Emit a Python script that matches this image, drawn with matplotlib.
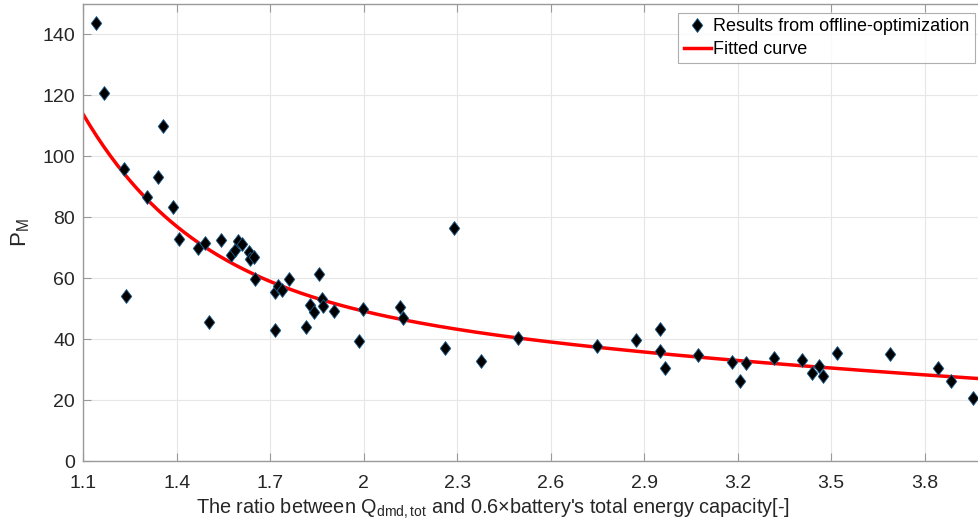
import numpy as np
import matplotlib
matplotlib.use("Agg")
import matplotlib.pyplot as plt
from matplotlib.path import Path
from matplotlib.transforms import blended_transform_factory

plt.rcParams['font.family'] = ['Liberation Sans', 'DejaVu Sans']
plt.rcParams['mathtext.default'] = 'regular'

# Results from offline optimization (ratio, P_M)
ratio = [1.142, 1.167, 1.231, 1.238, 1.305, 1.340, 1.356, 1.388, 1.407, 1.468,
         1.490, 1.503, 1.541, 1.573, 1.586, 1.596, 1.609, 1.631, 1.634, 1.647,
         1.650, 1.714, 1.714, 1.724, 1.737, 1.759, 1.813, 1.829, 1.839, 1.855,
         1.865, 1.868, 1.903, 1.986, 1.999, 2.117, 2.127, 2.261, 2.290, 2.376,
         2.495, 2.748, 2.872, 2.952, 2.949, 2.965, 3.071, 3.183, 3.208, 3.227,
         3.317, 3.406, 3.438, 3.461, 3.474, 3.518, 3.688, 3.842, 3.883, 3.954]
pm = [143.8, 120.9, 96.0, 54.0, 86.8, 93.3, 110.1, 83.5, 73.0, 69.8,
      71.7, 45.5, 72.4, 67.5, 69.4, 72.1, 71.1, 68.5, 66.2, 67.1,
      59.6, 55.4, 42.9, 57.3, 56.0, 59.9, 44.0, 51.1, 48.8, 61.3,
      53.1, 50.8, 49.3, 39.3, 49.8, 50.5, 46.8, 37.0, 76.6, 32.8,
      40.3, 37.7, 39.6, 43.2, 36.2, 30.6, 34.9, 32.6, 26.2, 32.1,
      33.9, 33.0, 29.0, 31.3, 28.0, 35.6, 35.0, 30.4, 26.2, 20.6]

# Fitted curve (two-term exponential) parameters
fit_a, fit_b, fit_c, fit_d = 1200.0, -2.75, 73.0, -0.25

xticks = [1.1, 1.4, 1.7, 2.0, 2.3, 2.6, 2.9, 3.2, 3.5, 3.8]
xticklabels = ['1.1', '1.4', '1.7', '2', '2.3', '2.6', '2.9', '3.2', '3.5', '3.8']
yticks = [0, 20, 40, 60, 80, 100, 120, 140]

fig = plt.figure(figsize=(9.79, 5.30), dpi=100)
ax = fig.add_axes([83.3/979, 69/530, 896/979, 457/530])

xmin, xmax = 1.1, 3.975
xc = np.linspace(xmin, xmax, 400)
yc = fit_a*np.exp(fit_b*xc) + fit_c*np.exp(fit_d*xc)

diamond = Path([(0, 1), (0.76, 0), (0, -1), (-0.76, 0), (0, 1)],
               [Path.MOVETO, Path.LINETO, Path.LINETO, Path.LINETO, Path.CLOSEPOLY])

ax.plot(ratio, pm, linestyle='none', marker=diamond, markersize=10,
        markerfacecolor='black', markeredgecolor='#1f5f8f', markeredgewidth=0.6,
        label='Results from offline-optimization', zorder=3)
ax.plot(xc, yc, color='#ff0000', linewidth=2.5, label='Fitted curve', zorder=2)

ax.set_xlim(xmin, xmax)
ax.set_ylim(0, 150)
ax.set_xticks(xticks)
ax.set_xticklabels(xticklabels)
ax.set_yticks(yticks)
ax.grid(True, color='#e6e6e6', linewidth=0.8)
ax.set_axisbelow(True)

for s in ['left', 'top', 'bottom']:
    ax.spines[s].set_color('#9a9a9a')
    ax.spines[s].set_linewidth(1.0)
ax.spines['right'].set_visible(False)

ax.tick_params(axis='both', direction='in', length=6, color='#9a9a9a',
               labelsize=14, labelcolor='#262626', top=True, right=False)
ax.tick_params(axis='x', pad=10)
ax.tick_params(axis='y', pad=6)

ax.set_xlabel("The ratio between Q$_{dmd,tot}$ and 0.6×battery's total energy capacity[-]",
              fontsize=14.3, color='#262626', labelpad=5)
ax.xaxis.set_label_coords(493/979, 0.0,
                          transform=blended_transform_factory(fig.transFigure, ax.transAxes))
ax.xaxis.label.set_va('top')
ax.xaxis.label.set_y(-0.078)
ax.set_ylabel("P$_M$", fontsize=16, color='#262626', labelpad=7)

leg = ax.legend(loc='upper right', fontsize=13, frameon=True,
                fancybox=False, edgecolor='#9a9a9a', handlelength=1.5,
                handletextpad=0.15, borderpad=0.3, labelspacing=0.3,
                borderaxespad=0.0)
leg.set_bbox_to_anchor((975/979, 1 - 13/530), transform=fig.transFigure)
leg.get_frame().set_linewidth(0.8)

fig.savefig('out.png', dpi=100)
